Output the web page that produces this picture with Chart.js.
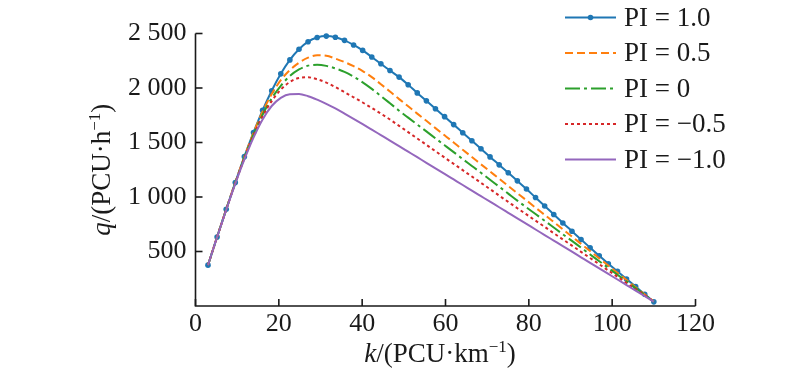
<!DOCTYPE html>
<html><head><meta charset="utf-8">
<script src="https://cdn.jsdelivr.net/npm/chart.js@4.4.0/dist/chart.umd.min.js"></script>
<style>html,body{margin:0;padding:0;background:#fff;}#wrap{width:800px;height:378px;}</style>
</head><body><div id="wrap"><canvas id="c" width="800" height="378"></canvas></div>
<script>
// density k (PCU/km)
const densityK = [3.00,5.18,7.37,9.55,11.73,13.92,16.10,18.29,20.47,22.65,24.84,27.02,29.20,31.39,33.57,35.76,37.94,40.12,42.31,44.49,46.67,48.86,51.04,53.22,55.41,57.59,59.78,61.96,64.14,66.33,68.51,70.69,72.88,75.06,77.24,79.43,81.61,83.80,85.98,88.16,90.35,92.53,94.71,96.90,99.08,101.27,103.45,105.63,107.82,110.00];
// flow q (PCU/h)
const flowPI10 = [375,633,887,1133,1370,1592,1795,1975,2130,2258,2355,2425,2463,2476,2466,2437,2395,2345,2285,2222,2160,2100,2030,1955,1882,1810,1737,1664,1590,1516,1443,1368,1295,1222,1148,1073,995,918,840,762,686,610,535,460,388,318,248,178,108,38];
const flowPI05 = [375,633,887,1133,1369,1588,1782,1945,2072,2165,2232,2278,2300,2296,2270,2238,2200,2155,2100,2035,1968,1898,1832,1765,1699,1632,1566,1500,1433,1367,1300,1234,1168,1101,1035,969,902,836,770,703,637,570,504,438,371,305,239,172,106,40];
const flowPI00 = [375,633,886,1131,1362,1572,1755,1905,2020,2110,2170,2205,2213,2203,2180,2148,2105,2052,1992,1927,1860,1792,1728,1665,1602,1538,1475,1412,1348,1285,1222,1158,1095,1031,967,905,844,782,720,658,597,535,473,411,349,287,226,164,102,40];
const flowPIm05 = [375,633,885,1127,1355,1562,1740,1880,1985,2055,2092,2098,2080,2050,2008,1962,1915,1867,1817,1765,1711,1653,1595,1537,1479,1420,1362,1304,1246,1188,1130,1072,1013,955,897,840,783,726,668,611,554,497,440,383,326,269,211,154,97,40];
const flowPIm10 = [375,632,882,1122,1345,1545,1712,1835,1910,1943,1945,1925,1893,1855,1812,1765,1717,1668,1618,1568,1518,1467,1416,1365,1314,1263,1212,1161,1110,1059,1008,957,906,855,804,753,702,651,600,549,498,447,396,345,294,243,192,141,90,40];
const seriesLabels = ['PI = 1.0','PI = 0.5','PI = 0','PI = \u22120.5','PI = \u22121.0'];
const xTicks = [0,20,40,60,80,100,120];
const yTicks = [500,1000,1500,2000,2500];

const FONT = '"Liberation Serif","Times New Roman",serif';
const INK = '#1a1a1a';
const TICK_SIZE = 26;

function pts(arr){ return densityK.map((k,i)=>({x:k,y:arr[i]})); }
function fmt(v){ const s = String(v); return s.length>3 ? s.slice(0,s.length-3)+' '+s.slice(-3) : s; }

function drawRich(ctx, parts, size){
  let w = 0;
  const f = p => (p.it?'italic ':'') + Math.round(p.sup?size*0.62:size) + 'px ' + FONT;
  parts.forEach(p=>{ ctx.font=f(p); p.w=ctx.measureText(p.t).width; w+=p.w; });
  let x = -w/2;
  parts.forEach(p=>{ ctx.font=f(p); ctx.fillText(p.t, x, p.sup? -size*0.38 : 0); x+=p.w; });
}

const decor = {
  id:'decor',
  afterDraw(chart){
    const {ctx, chartArea:a, scales:{x,y}} = chart;
    ctx.save();
    ctx.strokeStyle = INK; ctx.lineWidth = 1.6; ctx.lineCap='butt';
    ctx.beginPath();
    ctx.moveTo(a.left, y.getPixelForValue(2500)); ctx.lineTo(a.left, a.bottom); ctx.lineTo(x.getPixelForValue(120), a.bottom);
    ctx.stroke();
    xTicks.forEach(v=>{ const px=x.getPixelForValue(v); ctx.beginPath(); ctx.moveTo(px,a.bottom); ctx.lineTo(px,a.bottom-7); ctx.stroke(); });
    yTicks.forEach(v=>{ const py=y.getPixelForValue(v); ctx.beginPath(); ctx.moveTo(a.left,py); ctx.lineTo(a.left+7,py); ctx.stroke(); });

    // axis titles
    ctx.fillStyle = INK; ctx.textAlign='left'; ctx.textBaseline='alphabetic';
    ctx.save();
    ctx.translate(440, 362);
    drawRich(ctx,[{t:'k',it:true},{t:'/(PCU\u00B7km'},{t:'\u22121',sup:true},{t:')'}],27);
    ctx.restore();
    ctx.save();
    ctx.translate(110,(a.top+a.bottom)/2);
    ctx.rotate(-Math.PI/2);
    drawRich(ctx,[{t:'q',it:true},{t:'/(PCU\u00B7h'},{t:'\u22121',sup:true},{t:')'}],27);
    ctx.restore();

    // legend
    const ds = chart.data.datasets;
    ds.forEach((d,i)=>{
      const yy = 17.5 + i*35.5;
      ctx.save();
      ctx.strokeStyle = d.borderColor; ctx.lineWidth = d.borderWidth;
      ctx.setLineDash(d.borderDash||[]);
      ctx.beginPath(); ctx.moveTo(565,yy); ctx.lineTo(616,yy); ctx.stroke();
      ctx.setLineDash([]);
      if (d.pointRadius>0){ ctx.fillStyle=d.borderColor; ctx.beginPath(); ctx.arc(590.5,yy,d.pointRadius,0,Math.PI*2); ctx.fill(); }
      ctx.restore();
      ctx.font = '27px '+FONT; ctx.textBaseline='middle'; ctx.fillStyle=INK;
      ctx.fillText(d.label, 624, yy+1);
    });
    ctx.restore();
  }
};

const colors = ['#1f77b4','#ff7f0e','#2ca02c','#d62728','#9467bd'];
const dashes = [[],[8,4],[15,4,3,4],[3,3],[]];
const flows = [flowPI10,flowPI05,flowPI00,flowPIm05,flowPIm10];

new Chart(document.getElementById('c'),{
  type:'scatter',
  data:{datasets: flows.map((f,i)=>({
    label: seriesLabels[i], data: pts(f), showLine:true,
    borderColor: colors[i], backgroundColor: colors[i], borderWidth: 2,
    borderDash: dashes[i], pointRadius: i===0?2.8:0, pointHoverRadius:0,
    pointBorderWidth:0, cubicInterpolationMode:'monotone', order: 4-i, clip:false
  }))},
  options:{
    responsive:false, animation:false, devicePixelRatio:1,
    layout:{padding:{left:0,right:104.5,top:33.5,bottom:0}},
    plugins:{legend:{display:false},tooltip:{enabled:false}},
    scales:{
      x:{type:'linear',min:0,max:120,
        grid:{display:false,drawTicks:false}, border:{display:false},
        afterBuildTicks:s=>{s.ticks = xTicks.map(v=>({value:v}));},
        afterFit:s=>{s.height=72;},
        ticks:{padding:3,color:INK,font:{family:FONT,size:TICK_SIZE},maxRotation:0,autoSkip:false,callback:v=>String(v)}},
      y:{type:'linear',min:0,max:2500,
        grid:{display:false,drawTicks:false}, border:{display:false},
        afterBuildTicks:s=>{s.ticks = yTicks.map(v=>({value:v}));},
        afterFit:s=>{s.width=195.5;},
        ticks:{padding:9,color:INK,font:{family:FONT,size:TICK_SIZE},autoSkip:false,callback:v=>fmt(v)}}
    }
  },
  plugins:[decor]
});
</script></body></html>
